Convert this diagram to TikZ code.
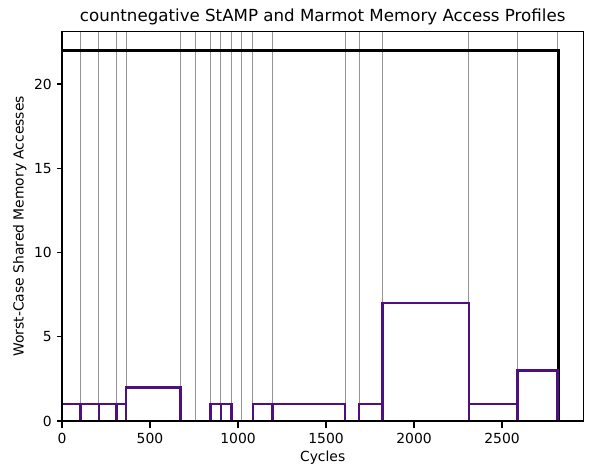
\documentclass[tikz,border=0pt]{standalone}
\usepackage{fontspec}
\setmainfont{DejaVu Sans}
\usepackage{tikz}
\usetikzlibrary{positioning}
\definecolor{marmotcol}{RGB}{78,16,128}

\begin{document}
\begin{tikzpicture}[x=0.72pt,y=0.72pt,
	every node/.style={font=\fontsize{10}{12}\selectfont, inner sep=0pt},
	gridline/.style={black!42, line width=0.72pt},
	stampline/.style={black, line width=2pt},
	marmotline/.style={marmotcol, line width=1.8pt},
	frame/.style={black, line width=0.8pt}]
	\useasboundingbox (0,0) rectangle (591,470);
	\begin{scope}[shift={(62,49)}, x=0.12672pt, y=12.132pt]
		\coordinate (o) at (0,0);
		\coordinate (tr) at (2962,23.1);
		% region boundaries
		\foreach \c in {106,210,311,364,674,757,843,902,964,1021,1084,1195,1608,1688,1822,2311,2587,2814}
			\draw[gridline] (\c,0) -- (\c,23.1);
		% StAMP bound
		\draw[stampline] (0,0) rectangle (2821,22);
		% Marmot profile
		\foreach \a/\b/\v in {0/106/1, 106/210/1, 210/311/1, 311/364/1, 364/674/2, 674/843/0,
			843/902/1, 902/964/1, 964/1084/0, 1084/1195/1, 1195/1608/1, 1608/1688/0,
			1688/1822/1, 1822/2311/7, 2311/2587/1, 2587/2814/3}
			\draw[marmotline] (\a,0) rectangle (\b,\v);
		% axes
		\draw[frame] (o) rectangle (tr);
		\foreach \t in {0,500,...,2500}
			\draw[frame] (\t,0) -- ++(0,-0.4) node[below=3.5pt] (xt\t) {\t};
		\foreach \t in {0,5,...,20}
			\draw[frame] (0,\t) -- ++(-27,0) node[left=3.5pt] (yt\t) {\t};
		\node (xlabel) at (1481,-2.2) {Cycles};
		\node[rotate=90] (ylabel) at (-240,11.55) {Worst-Case Shared Memory Accesses};
		\node[font=\fontsize{12}{14}\selectfont] (title) at (1481,23.98) {countnegative StAMP and Marmot Memory Access Profiles};
	\end{scope}
\end{tikzpicture}
\end{document}
